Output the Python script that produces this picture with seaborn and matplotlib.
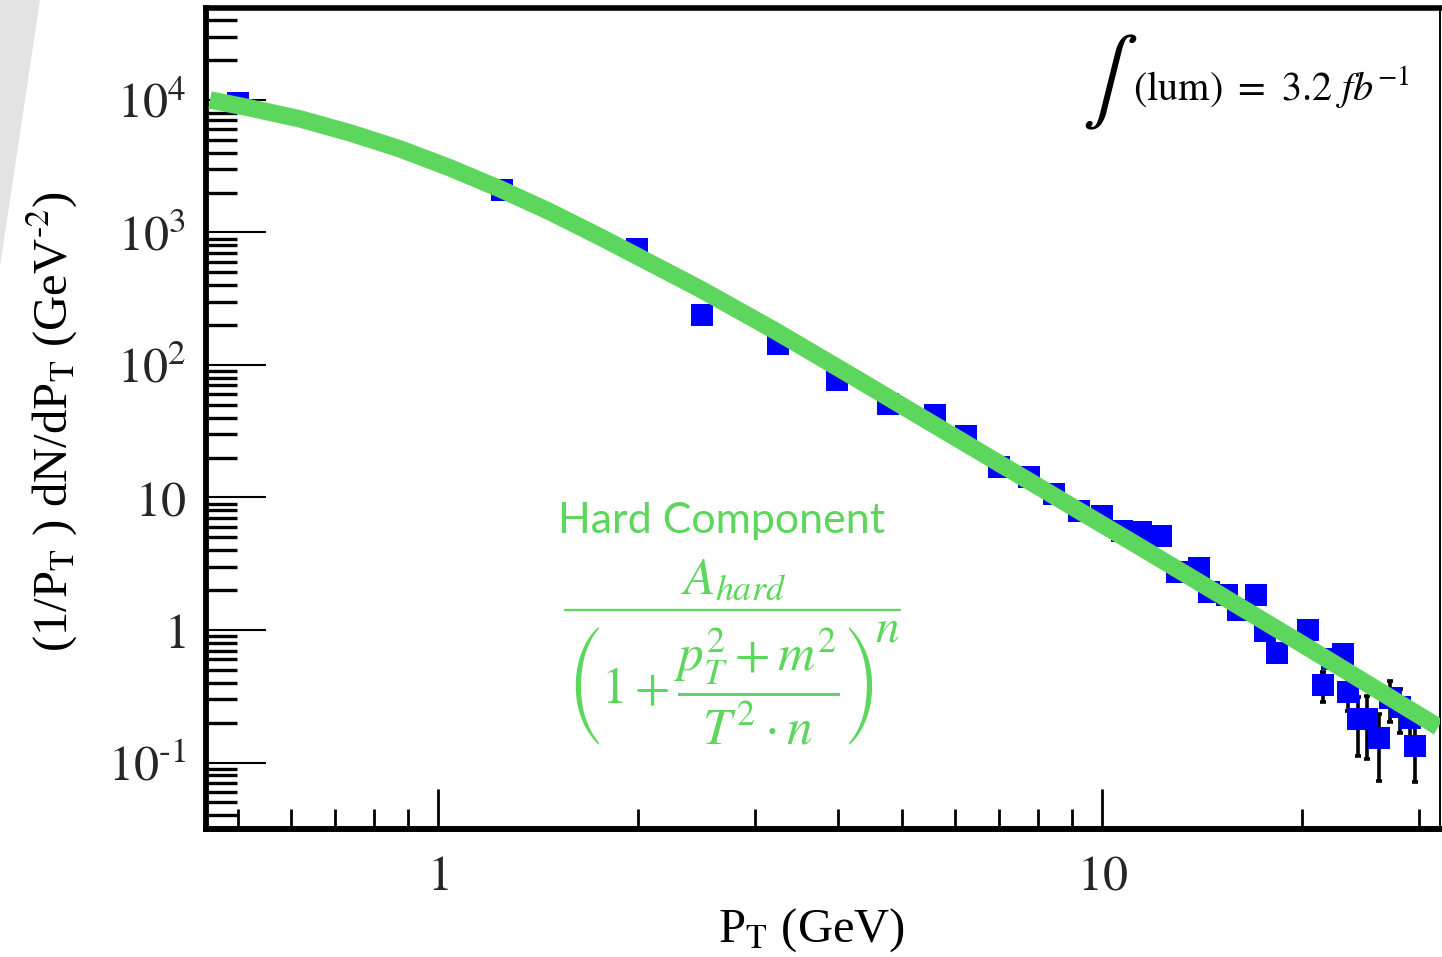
import numpy as np
import matplotlib
matplotlib.use("Agg")
import matplotlib.pyplot as plt
import seaborn as sns
from matplotlib.ticker import FixedLocator, FixedFormatter, LogLocator, NullFormatter
from matplotlib.patches import Polygon
from matplotlib.lines import Line2D

# Measured charged-particle spectrum
pt_gev = [0.5, 1.25, 1.99, 2.5, 3.25, 3.99, 4.75, 5.6, 6.24, 7.0, 7.76, 8.47,
          9.23, 10.0, 10.7, 11.45, 12.27, 12.97, 14.0, 14.5, 15.4, 16.0, 17.06,
          17.6, 18.35, 20.4, 21.5, 22.2, 23.07, 23.4, 24.3, 25.0, 26.1, 27.15,
          28.1, 29.1, 29.6]
dn_dpt = [9400, 2100, 750, 238, 144, 77, 51, 42, 29, 17, 14.3, 10.6,
          7.9, 7.2, 5.6, 5.5, 5.1, 2.74, 2.94, 1.94, 1.84, 1.42, 1.84,
          0.98, 0.67, 1.0, 0.385, 0.60, 0.66, 0.34, 0.213, 0.213, 0.153, 0.307,
          0.262, 0.217, 0.133]
dn_dpt_err = [300, 70, 25, 8, 5, 2.5, 1.7, 1.4, 1.0, 0.6, 0.5, 0.4,
              0.3, 0.3, 0.25, 0.25, 0.25, 0.15, 0.15, 0.12, 0.12, 0.1, 0.12,
              0.08, 0.07, 0.08, 0.098, 0.08, 0.08, 0.096, 0.101, 0.107, 0.081, 0.105,
              0.095, 0.061, 0.062]

# Hard-component fit curve
fit_pt = [0.4535, 0.521, 0.6197, 0.7371, 0.8765, 1.0425, 1.240, 1.4746, 1.754,
          2.086, 2.480, 3.217, 4.174, 7.021, 11.81, 19.87, 32.06]
fit_val = [10000, 8700, 7190, 5640, 4270, 3070, 2130, 1430, 925,
           589, 375, 181, 84, 17.9, 3.81, 0.798, 0.1854]

x_major = [1, 10]
x_labels = [r"$1$", r"$10$"]
y_major = [0.1, 1, 10, 100, 1000, 10000]
y_labels = [r"$10^{\text{-}1}$", r"$1$", r"$10$", r"$10^{2}$", r"$10^{3}$", r"$10^{4}$"]

GREEN = "#5cd65c"
BLUE = "#0000ff"
W, H = 1442, 957

sns.set_theme(style="white")
plt.rcParams["font.family"] = ["Liberation Serif", "DejaVu Serif"]
plt.rcParams["mathtext.fontset"] = "stix"


def fx(px):
    return px / W


def fy(py):
    return 1 - py / H


fig = plt.figure(figsize=(W / 100, H / 100), dpi=100)
fig.patch.set_facecolor("white")

# light grey wedge in the upper-left corner
fig.patches.append(Polygon([(0, 1), (fx(40), 1), (0, fy(267))], closed=True,
                           transform=fig.transFigure, facecolor="#e3e3e3",
                           edgecolor="none", zorder=0))

ax = fig.add_axes([fx(205.5), fy(829), (1440.5 - 205.5) / W, (829 - 8) / H])
ax.set_facecolor("none")
ax.set_xscale("log")
ax.set_yscale("log")
ax.set_xlim(0.4465, 32.3)
ax.set_ylim(0.0315, 4.94e4)

ax.errorbar(pt_gev, dn_dpt, yerr=dn_dpt_err, fmt="none", ecolor="black",
            elinewidth=2.6, capsize=2.5, capthick=2.6, zorder=2)
sns.scatterplot(x=pt_gev, y=dn_dpt, marker="s", s=16.5 ** 2, color=BLUE,
                linewidth=0, ax=ax, zorder=3, legend=False)
sns.lineplot(x=fit_pt, y=fit_val, ax=ax, color=GREEN, linewidth=12.5,
             sort=False, estimator=None, zorder=4, legend=False,
             solid_capstyle="butt", solid_joinstyle="round")

# axes frame
for side, lw in [("left", 4.2), ("bottom", 4.3), ("top", 4.0), ("right", 1.4)]:
    ax.spines[side].set_visible(True)
    ax.spines[side].set_color("black")
    ax.spines[side].set_linewidth(lw)

ax.xaxis.set_major_locator(FixedLocator(x_major))
ax.xaxis.set_major_formatter(FixedFormatter(x_labels))
ax.xaxis.set_minor_locator(LogLocator(base=10, subs=np.arange(2, 10), numticks=20))
ax.xaxis.set_minor_formatter(NullFormatter())
ax.yaxis.set_major_locator(FixedLocator(y_major))
ax.yaxis.set_major_formatter(FixedFormatter(y_labels))
ax.yaxis.set_minor_locator(LogLocator(base=10, subs=np.arange(2, 10), numticks=20))
ax.yaxis.set_minor_formatter(NullFormatter())

ax.tick_params(axis="x", which="major", direction="in", length=29, width=2.0,
               color="black", labelsize=36, pad=18, top=False, bottom=True)
ax.tick_params(axis="x", which="minor", direction="in", length=14.5, width=2.0,
               color="black", top=False, bottom=True)
ax.tick_params(axis="y", which="major", direction="in", length=43, width=1.5,
               color="black", labelsize=36, pad=14, right=False, left=True)
ax.tick_params(axis="y", which="minor", direction="in", length=22.5, width=2.4,
               color="black", right=False, left=True)
ax.grid(False)

fig.text(fx(52), fy(422),
         r"(1/P$_{\mathrm{T}}$ ) dN/dP$_{\mathrm{T}}$ (GeV$^{\text{-}2}$)",
         rotation=90, ha="center", va="center", fontsize=35, color="black")
fig.text(fx(812), fy(930), r"P$_{\mathrm{T}}$ (GeV)",
         ha="center", va="center", fontsize=35, color="black")

# integrated luminosity
fig.text(fx(1110), fy(82), r"$\int$", ha="center", va="center",
         fontsize=60, color="black")
fig.text(fx(1133), fy(100), r"$(\mathrm{lum})\ =\ 3.2\ fb^{-1}$",
         ha="left", va="baseline", fontsize=29, color="black")

# fit function annotation: title, numerator, fraction bar, denominator, exponent
fig.text(fx(722), fy(521), "Hard Component", ha="center", va="center",
         fontsize=31, color=GREEN, family=["Lato", "DejaVu Sans"])
fig.text(fx(733), fy(582), r"$A_{hard}$", ha="center", va="center",
         fontsize=37, color=GREEN)
fig.add_artist(Line2D([fx(565), fx(900)], [fy(610), fy(610)],
                      transform=fig.transFigure, color=GREEN, linewidth=1.7))
fig.text(fx(720), fy(686),
         r"$\left(1+\dfrac{p_T^2+m^2}{T^2\cdot n}\right)$",
         ha="center", va="center", fontsize=37, color=GREEN)
fig.text(fx(887), fy(630), r"$n$", ha="center", va="center",
         fontsize=34, color=GREEN)

fig.savefig("out.png", dpi=100)
